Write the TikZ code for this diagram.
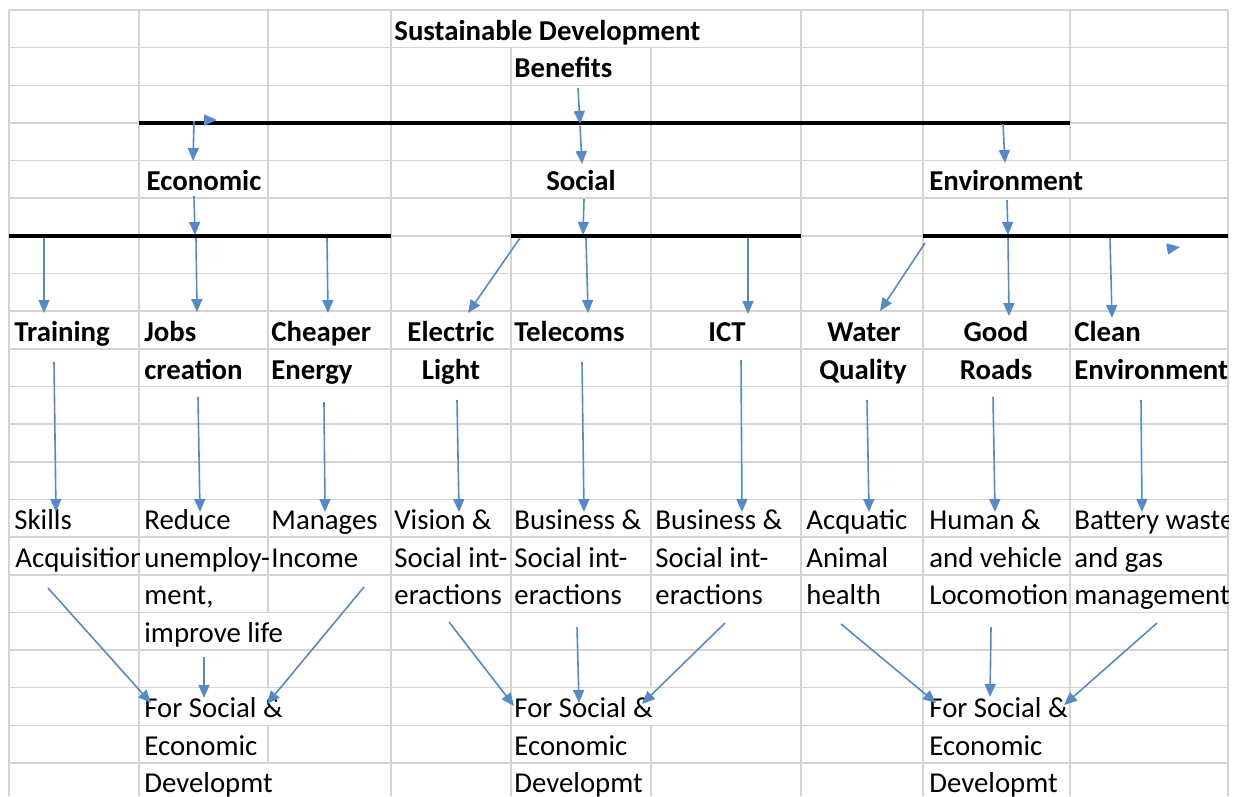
\documentclass[tikz,border=0pt]{standalone}
\usepackage{fontspec}
\setmainfont{Carlito}
\usepackage{xcolor}
\usepackage{tikz}
\usetikzlibrary{arrows.meta}
\definecolor{arrowCol}{RGB}{84,138,200}

\begin{document}
\begin{tikzpicture}[x=0.5pt, y=-0.5pt,
cell/.style = {anchor=base west, inner sep=0pt, font=\fontsize{14.4}{16}\selectfont},
cellMid/.style = {cell, anchor=base},
cellBold/.style = {cell, font=\fontsize{14.4}{16}\selectfont\bfseries},
cellBoldMid/.style = {cellBold, anchor=base},
gridLine/.style = {draw=black!17, line width=0.75pt},
busLine/.style = {draw=black, line width=1.8pt},
arrowBlue/.style = {draw=arrowCol, line width=0.8pt, -{Triangle[length=6.5pt,width=5.5pt]}}]
\useasboundingbox (0,0) rectangle (1234,796);
\def\rowh{37.65}

% sheet grid
\foreach \k in {0,...,20}
  \draw[gridLine] (9,10+\rowh*\k) -- (1228,10+\rowh*\k);
\foreach \c in {9,139,391,801,923,1228}
  \draw[gridLine] (\c,10) -- (\c,796);
\draw[gridLine] (511,47.65) -- (511,796);
\draw[gridLine] (651,47.65) -- (651,687.7) (651,725.35) -- (651,796);
\draw[gridLine] (268,10) -- (268,612.4) (268,650.05) -- (268,687.7) (268,725.35) -- (268,763);
\draw[gridLine] (1070,10) -- (1070,160.6) (1070,198.25) -- (1070,796);

% bus lines
\draw[busLine] (139,122.95) -- (1070,122.95);
\draw[busLine] (9,235.9) -- (391,235.9);
\draw[busLine] (511,235.9) -- (801,235.9);
\draw[busLine] (923,235.9) -- (1228,235.9);

% headings
\node[cellBold] (title) at (394,40.15) {Sustainable Development};
\node[cellBold] (benefits) at (514,77.8) {Benefits};
\node[cellBoldMid] (econ) at (204,190.75) {Economic};
\node[cellBoldMid] (social) at (581,190.75) {Social};
\node[cellBold] (env) at (929,190.75) {Environment};

\node[cellBold] (training) at (14,341.35) {Training};
\node[cellBold] (jobs) at (144,341.35) {Jobs};
\node[cellBold] (cheaper) at (271,341.35) {Cheaper};
\node[cellBoldMid] (electric) at (451,341.35) {Electric};
\node[cellBold] (telecoms) at (514,341.35) {Telecoms};
\node[cellBoldMid] (ict) at (727,341.35) {ICT};
\node[cellBoldMid] (water) at (864,341.35) {Water};
\node[cellBoldMid] (good) at (996,341.35) {Good};
\node[cellBold] (clean) at (1074,341.35) {Clean};
\node[cellBold] (creation) at (144,379) {creation};
\node[cellBold] (energy) at (271,379) {Energy};
\node[cellBoldMid] (light) at (451,379) {Light};
\node[cellBoldMid] (quality) at (863,379) {Quality};
\node[cellBoldMid] (roads) at (996,379) {Roads};
\node[cellBold] (cleanEnv) at (1074,379) {Environment};

% outcomes
\node[cell] (skills) at (14,529.6) {Skills};
\node[cell] (reduce) at (144,529.6) {Reduce};
\node[cell] (manages) at (271,529.6) {Manages};
\node[cell] (vision) at (394,529.6) {Vision \&};
\node[cell] (busA) at (514,529.6) {Business \&};
\node[cell] (busB) at (655,529.6) {Business \&};
\node[cell] (acquatic) at (806,529.6) {Acquatic};
\node[cell] (human) at (929,529.6) {Human \&};
\begin{scope}
\clip (1070,499.45) rectangle (1228,612.4);
\node[cell] (battery) at (1074,529.6) {Battery waste};
\node[cell] (manage) at (1074,604.9) {management};
\end{scope}
\begin{scope}
\clip (9,537.1) rectangle (139,574.75);
\node[cell] (acquis) at (15,567.25) {Acquisition};
\end{scope}
\begin{scope}
\clip (139,537.1) rectangle (268,574.75);
\node[cell] (unemp) at (144,567.25) {unemploy-};
\end{scope}
\node[cell] (income) at (271,567.25) {Income};
\node[cell] (socA) at (394,567.25) {Social int-};
\node[cell] (socB) at (514,567.25) {Social int-};
\node[cell] (socC) at (655,567.25) {Social int-};
\node[cell] (animal) at (806,567.25) {Animal};
\node[cell] (vehicle) at (929,567.25) {and vehicle};
\node[cell] (gas) at (1074,567.25) {and gas};
\node[cell] (ment) at (144,604.9) {ment,};
\node[cell] (eracA) at (394,604.9) {eractions};
\node[cell] (eracB) at (514,604.9) {eractions};
\node[cell] (eracC) at (655,604.9) {eractions};
\node[cell] (health) at (806,604.9) {health};
\node[cell] (locom) at (929,604.9) {Locomotion};
\node[cell] (improve) at (144,642.55) {improve life};

\node[cell] (forA) at (144,717.85) {For Social \&};
\node[cell] (forB) at (514,717.85) {For Social \&};
\node[cell] (forC) at (929,717.85) {For Social \&};
\node[cell] (ecoA) at (144,755.5) {Economic};
\node[cell] (ecoB) at (514,755.5) {Economic};
\node[cell] (ecoC) at (929,755.5) {Economic};
\node[cell] (devA) at (144,792.5) {Developmt};
\node[cell] (devB) at (514,792.5) {Developmt};
\node[cell] (devC) at (929,792.5) {Developmt};

% arrow ends
\coordinate (b0) at (578,88);    \coordinate (b1) at (580,124);
\coordinate (s0) at (580,126);   \coordinate (s1) at (582,164);
\coordinate (e0) at (194,121);   \coordinate (e1) at (193,161);
\coordinate (x0) at (204,120);   \coordinate (x1) at (217,120);
\coordinate (v0) at (1003,124);  \coordinate (v1) at (1005,163);
\coordinate (e2) at (194,196);   \coordinate (e3) at (195,235);
\coordinate (s2) at (584,199);   \coordinate (s3) at (583,235);
\coordinate (v2) at (1007,200);  \coordinate (v3) at (1008,235);
\coordinate (y0) at (1167,249);  \coordinate (y1) at (1180,247);

\coordinate (t0) at (44,238);    \coordinate (t1) at (44,313);
\coordinate (j0) at (196,238);   \coordinate (j1) at (197,312);
\coordinate (c0) at (327,238);   \coordinate (c1) at (328,313);
\coordinate (l0) at (520,238);   \coordinate (l1) at (468,313);
\coordinate (m0) at (586,238);   \coordinate (m1) at (588,313);
\coordinate (i0) at (748,238);   \coordinate (i1) at (748,314);
\coordinate (w0) at (925,243);   \coordinate (w1) at (880,311);
\coordinate (g0) at (1008,238);  \coordinate (g1) at (1009,316);
\coordinate (k0) at (1110,238);  \coordinate (k1) at (1112,318);

\coordinate (t2) at (54,362);    \coordinate (t3) at (56,512);
\coordinate (j2) at (198,397);   \coordinate (j3) at (200,512);
\coordinate (c2) at (324,402);   \coordinate (c3) at (325,512);
\coordinate (l2) at (457,400);   \coordinate (l3) at (459,512);
\coordinate (m2) at (582,362);   \coordinate (m3) at (584,512);
\coordinate (i2) at (741,360);   \coordinate (i3) at (742,512);
\coordinate (w2) at (867,400);   \coordinate (w3) at (869,512);
\coordinate (g2) at (993,397);   \coordinate (g3) at (995,512);
\coordinate (k2) at (1141,400);  \coordinate (k3) at (1142,512);

\coordinate (t4) at (48,588);    \coordinate (fa1) at (151,703);
\coordinate (j4) at (204,657);   \coordinate (fa2) at (204,698);
\coordinate (c4) at (364,587);   \coordinate (fa3) at (267,704);
\coordinate (l4) at (449,622);   \coordinate (fb1) at (514,706);
\coordinate (m4) at (577,627);   \coordinate (fb2) at (579,703);
\coordinate (i4) at (725,623);   \coordinate (fb3) at (642,704);
\coordinate (w4) at (841,624);   \coordinate (fc1) at (936,703);
\coordinate (g4) at (991,627);   \coordinate (fc2) at (990,697);
\coordinate (k4) at (1157,623);  \coordinate (fc3) at (1064,705);

% arrows
\draw[arrowBlue] (b0) -- (b1);
\draw[arrowBlue] (s0) -- (s1);
\draw[arrowBlue] (e0) -- (e1);
\draw[arrowBlue] (x0) -- (x1);
\draw[arrowBlue] (v0) -- (v1);
\draw[arrowBlue] (e2) -- (e3);
\draw[arrowBlue] (s2) -- (s3);
\draw[arrowBlue] (v2) -- (v3);
\draw[arrowBlue] (y0) -- (y1);

\draw[arrowBlue] (t0) -- (t1);
\draw[arrowBlue] (j0) -- (j1);
\draw[arrowBlue] (c0) -- (c1);
\draw[arrowBlue] (l0) -- (l1);
\draw[arrowBlue] (m0) -- (m1);
\draw[arrowBlue] (i0) -- (i1);
\draw[arrowBlue] (w0) -- (w1);
\draw[arrowBlue] (g0) -- (g1);
\draw[arrowBlue] (k0) -- (k1);

\draw[arrowBlue] (t2) -- (t3);
\draw[arrowBlue] (j2) -- (j3);
\draw[arrowBlue] (c2) -- (c3);
\draw[arrowBlue] (l2) -- (l3);
\draw[arrowBlue] (m2) -- (m3);
\draw[arrowBlue] (i2) -- (i3);
\draw[arrowBlue] (w2) -- (w3);
\draw[arrowBlue] (g2) -- (g3);
\draw[arrowBlue] (k2) -- (k3);

\draw[arrowBlue] (t4) -- (fa1);
\draw[arrowBlue] (j4) -- (fa2);
\draw[arrowBlue] (c4) -- (fa3);
\draw[arrowBlue] (l4) -- (fb1);
\draw[arrowBlue] (m4) -- (fb2);
\draw[arrowBlue] (i4) -- (fb3);
\draw[arrowBlue] (w4) -- (fc1);
\draw[arrowBlue] (g4) -- (fc2);
\draw[arrowBlue] (k4) -- (fc3);

\end{tikzpicture}
\end{document}
